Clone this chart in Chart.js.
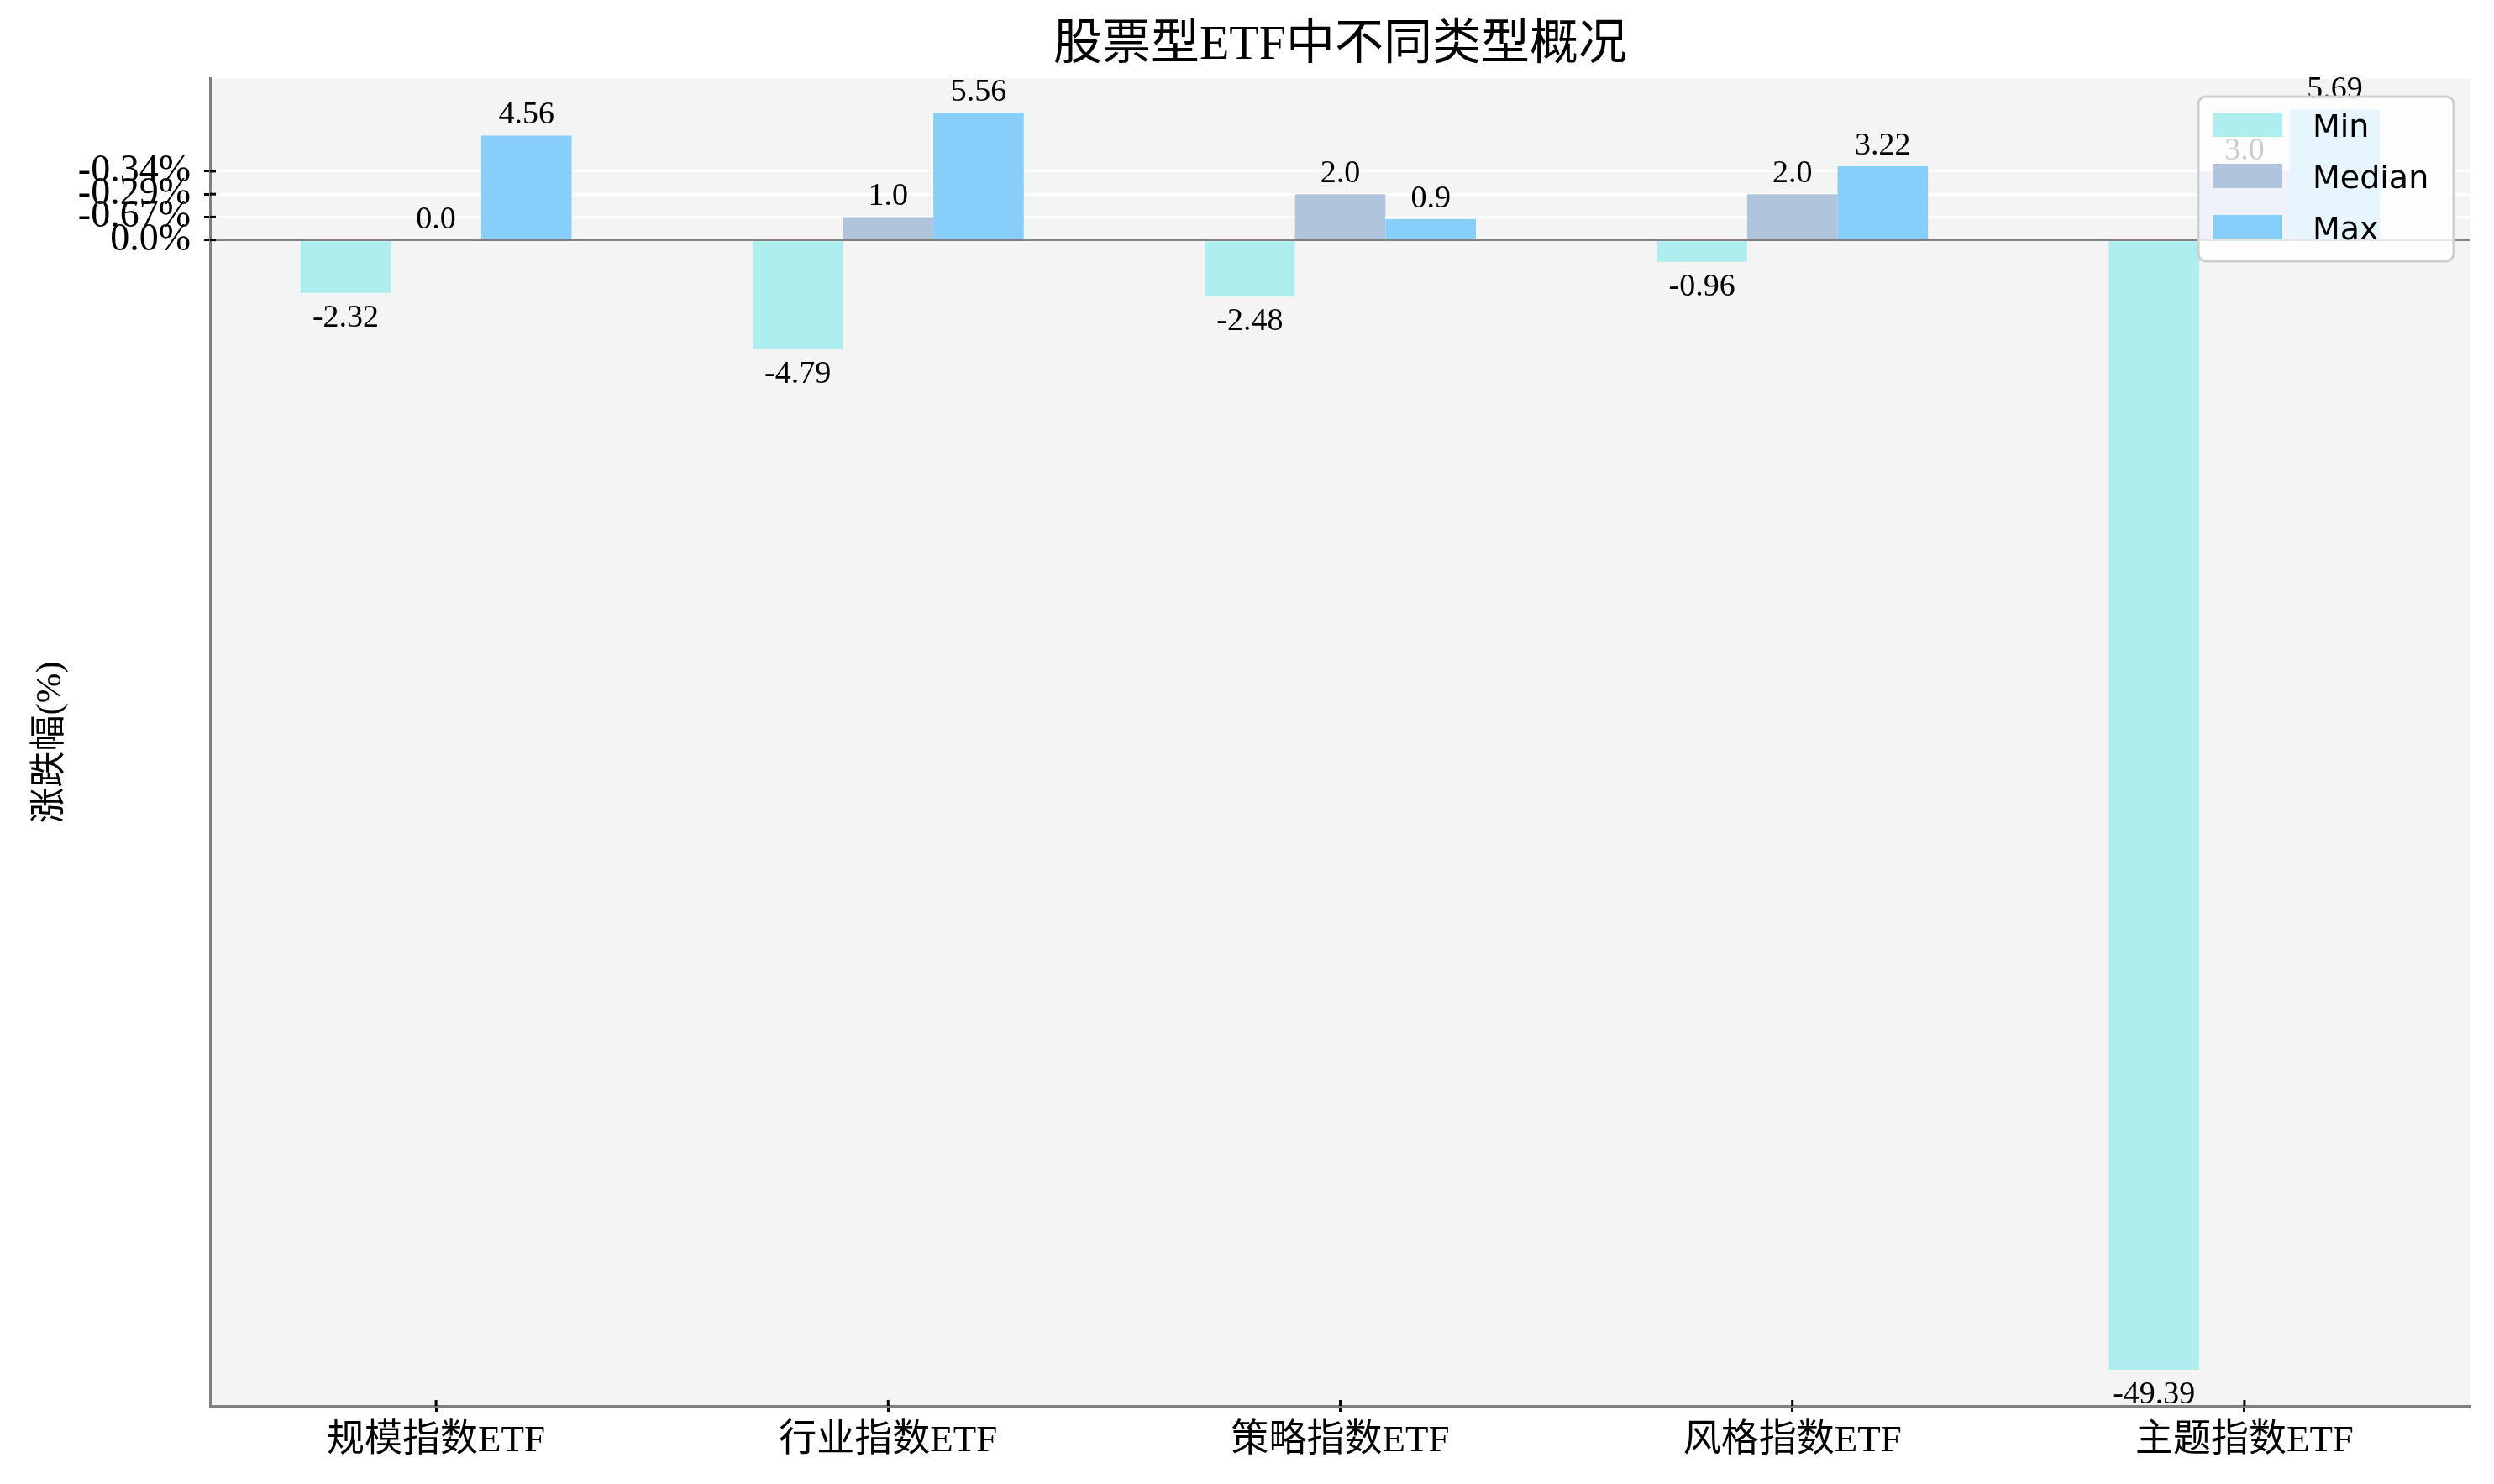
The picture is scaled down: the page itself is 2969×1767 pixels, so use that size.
<!DOCTYPE html>
<html>
<head>
<meta charset="utf-8">
<script src="https://cdn.jsdelivr.net/npm/chart.js@4.4.1/dist/chart.umd.min.js"></script>
<style>
  html, body { margin: 0; padding: 0; background: #ffffff; }
  #wrap { width: 2969px; height: 1767px; }
</style>
</head>
<body>
<div id="wrap"><canvas id="c" width="2969" height="1767"></canvas></div>
<script>
const categories = ['规模指数ETF', '行业指数ETF', '策略指数ETF', '风格指数ETF', '主题指数ETF'];
const minValues = [-2.32, -4.79, -2.48, -0.96, -49.39];
const medianValues = [0.0, 1.0, 2.0, 2.0, 3.0];
const maxValues = [4.56, 5.56, 0.9, 3.22, 5.69];
const seriesNames = ['Min', 'Median', 'Max'];
const seriesColors = ['#AFEEEE', '#B0C4DE', '#87CEFA'];
const yTickValues = [0, 1, 2, 3];
const yTickLabels = ['0.0%', '-0.67%', '-0.29%', '-0.34%'];
const chartTitle = '股票型ETF中不同类型概况';
const yAxisTitle = '涨跌幅(%)';

const SERIF = "'Liberation Serif', 'Noto Sans CJK SC', serif";

function fmt(v) {
  return Number.isInteger(v) ? v.toFixed(1) : String(v);
}

const bgPlugin = {
  id: 'bg',
  beforeDraw(chart) {
    const {ctx, chartArea: a} = chart;
    ctx.save();
    ctx.fillStyle = '#f4f4f4';
    ctx.fillRect(a.left, a.top, a.right - a.left, a.bottom - a.top);
    ctx.restore();
  }
};

const overlayPlugin = {
  id: 'overlay',
  afterDatasetsDraw(chart) {
    const {ctx, chartArea: a} = chart;
    ctx.save();
    // inner half of the in-out tick marks
    ctx.strokeStyle = '#000';
    ctx.lineWidth = 3;
    const ys = chart.scales.y, xs = chart.scales.x;
    ys.ticks.forEach((t, i) => {
      const py = ys.getPixelForTick(i);
      ctx.beginPath(); ctx.moveTo(a.left, py); ctx.lineTo(a.left + 7, py); ctx.stroke();
    });
    xs.ticks.forEach((t, i) => {
      const px = xs.getPixelForTick(i);
      ctx.beginPath(); ctx.moveTo(px, a.bottom); ctx.lineTo(px, a.bottom - 7); ctx.stroke();
    });
    // value labels
    ctx.font = '38px ' + SERIF;
    ctx.fillStyle = '#000';
    ctx.textAlign = 'center';
    ctx.textBaseline = 'alphabetic';
    chart.data.datasets.forEach((ds, di) => {
      const meta = chart.getDatasetMeta(di);
      meta.data.forEach((el, i) => {
        const v = ds.data[i];
        const txt = fmt(v);
        if (v < 0) {
          ctx.fillText(txt, el.x, el.y + 40);
        } else {
          ctx.fillText(txt, el.x, el.y - 14);
        }
      });
    });
    // legend box (drawn over the bars, semi-transparent like the reference)
    const bx = 2617, by = 115, bw = 304, bh = 196, r = 9;
    ctx.beginPath();
    ctx.moveTo(bx + r, by);
    ctx.arcTo(bx + bw, by, bx + bw, by + bh, r);
    ctx.arcTo(bx + bw, by + bh, bx, by + bh, r);
    ctx.arcTo(bx, by + bh, bx, by, r);
    ctx.arcTo(bx, by, bx + bw, by, r);
    ctx.closePath();
    ctx.fillStyle = 'rgba(255,255,255,0.8)';
    ctx.fill();
    ctx.strokeStyle = '#cfcfcf';
    ctx.lineWidth = 3;
    ctx.stroke();
    ctx.font = '38px "DejaVu Sans"';
    ctx.textAlign = 'left';
    ctx.textBaseline = 'alphabetic';
    chart.data.datasets.forEach((ds, di) => {
      const hy = 134 + di * 61;
      ctx.fillStyle = ds.backgroundColor;
      ctx.fillRect(2635, hy, 82, 29);
      ctx.fillStyle = '#000';
      ctx.fillText(ds.label, 2753, hy + 29);
    });
    ctx.restore();
  }
};

const seriesData = [minValues, medianValues, maxValues];

new Chart(document.getElementById('c'), {
  type: 'bar',
  data: {
    labels: categories,
    datasets: seriesNames.map((name, i) => ({
      label: name,
      data: seriesData[i],
      backgroundColor: seriesColors[i],
      borderWidth: 0,
      categoryPercentage: 0.6,
      barPercentage: 1.0
    }))
  },
  options: {
    responsive: false,
    devicePixelRatio: 1,
    animation: false,
    layout: { padding: { left: 0, right: 28, top: 0, bottom: 0 } },
    plugins: {
      legend: { display: false },
      tooltip: { enabled: false },
      title: {
        display: true,
        text: chartTitle,
        fullSize: false,
        color: '#000',
        font: { family: SERIF, size: 58, weight: 'normal', lineHeight: 1.2 },
        padding: { top: 20, bottom: 4 }
      }
    },
    scales: {
      x: {
        type: 'category',
        offset: true,
        grid: {
          display: true,
          offset: false,
          drawOnChartArea: false,
          drawTicks: true,
          tickLength: 7,
          tickWidth: 3,
          tickColor: '#000'
        },
        border: { display: true, color: '#808080', width: 3 },
        ticks: {
          color: '#000',
          padding: 8,
          maxRotation: 0,
          font: { family: SERIF, size: 45 }
        },
        afterFit(scale) { scale.height = 93; }
      },
      y: {
        min: -50.97,
        max: 7.05,
        afterBuildTicks(axis) {
          axis.ticks = yTickValues.map(v => ({ value: v }));
        },
        grid: {
          display: true,
          drawOnChartArea: true,
          color: (c) => (c.tick && c.tick.value === 0 ? '#808080' : '#ffffff'),
          lineWidth: 3,
          drawTicks: true,
          tickLength: 7,
          tickWidth: 3,
          tickColor: '#000'
        },
        border: { display: true, color: '#808080', width: 3 },
        ticks: {
          color: '#000',
          padding: 16,
          autoSkip: false,
          font: { family: SERIF, size: 46 },
          callback: (val, idx) => yTickLabels[idx]
        },
        title: {
          display: true,
          text: yAxisTitle,
          color: '#000',
          font: { family: SERIF, size: 43, lineHeight: 1.2 },
          padding: { top: 35, bottom: 0 }
        },
        afterFit(scale) { scale.width = 250; }
      }
    }
  },
  plugins: [bgPlugin, overlayPlugin]
});
</script>
</body>
</html>
